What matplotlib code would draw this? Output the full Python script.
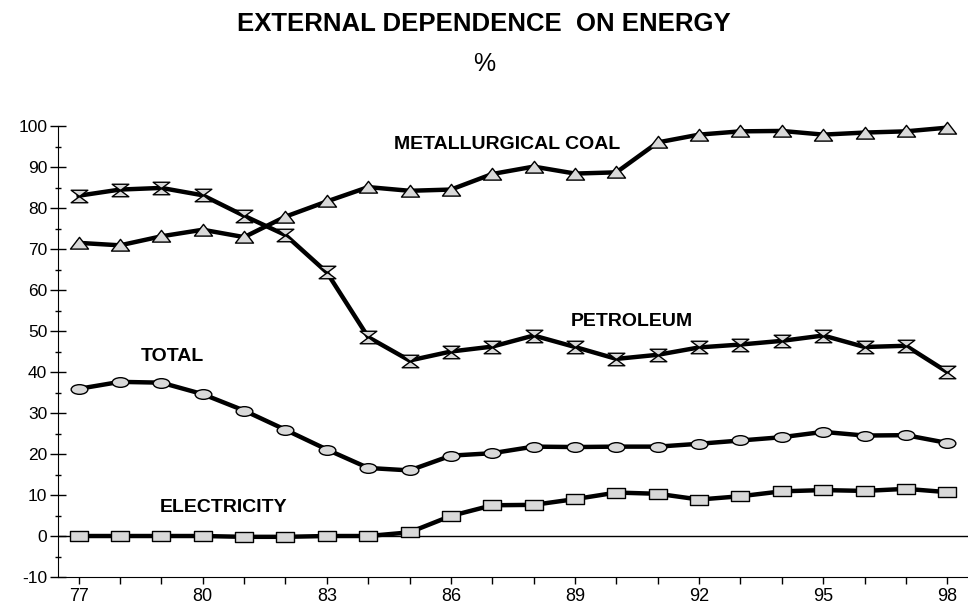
import matplotlib.pyplot as plt
import numpy as np
from matplotlib.path import Path
from matplotlib.ticker import MultipleLocator

plt.rcParams['font.family'] = ['Liberation Sans', 'DejaVu Sans']
plt.rcParams['axes.unicode_minus'] = False

years = list(range(77, 99))
year_labels = ['77', '80', '83', '86', '89', '92', '95', '98']

petroleum = [83.0, 84.5, 84.9, 83.1, 78.1, 73.4, 64.3, 48.5, 42.8, 45.0, 46.2,
             48.9, 46.1, 43.2, 44.2, 46.0, 46.7, 47.6, 48.9, 46.1, 46.4, 40.0]
met_coal = [71.5, 70.9, 73.1, 74.7, 72.9, 77.9, 81.6, 85.1, 84.2, 84.5, 88.3,
            90.1, 88.4, 88.7, 96.0, 97.9, 98.7, 98.8, 97.9, 98.4, 98.7, 99.6]
total = [35.9, 37.6, 37.4, 34.6, 30.6, 25.9, 21.1, 16.6, 16.0, 19.6, 20.2,
         21.8, 21.7, 21.8, 21.8, 22.5, 23.3, 24.1, 25.4, 24.5, 24.6, 22.7]
electricity = [0.0, 0.0, 0.0, 0.0, -0.2, -0.2, 0.0, 0.0, 0.9, 4.9, 7.5,
               7.6, 9.0, 10.6, 10.3, 8.9, 9.7, 10.9, 11.2, 11.0, 11.5, 10.7]

# custom marker shapes
M, L, C = Path.MOVETO, Path.LINETO, Path.CLOSEPOLY
hourglass = Path([(-1, 0.75), (1, 0.75), (-1, -0.75), (1, -0.75), (-1, 0.75)], [M, L, L, L, C])
triangle = Path([(-1, -0.62), (1, -0.62), (0, 0.68), (-1, -0.62)], [M, L, L, C])
circ = Path.unit_circle()
ellipse = Path(circ.vertices * [1, 0.58], circ.codes)
rect = Path([(-1, -0.6), (1, -0.6), (1, 0.6), (-1, 0.6), (-1, -0.6)], [M, L, L, L, C])

fig = plt.figure(figsize=(9.68, 6.07), dpi=100)
ax = fig.add_axes([0.0599, 0.0494, 0.9401, 0.743])

fill = '#d9d9d9'
kw = dict(color='black', lw=3.2, markerfacecolor=fill, markeredgecolor='black',
          markeredgewidth=1.0, clip_on=False, zorder=3)
ax.plot(years, petroleum, marker=hourglass, markersize=12, **kw)
ax.plot(years, met_coal, marker=triangle, markersize=13, **kw)
ax.plot(years, total, marker=ellipse, markersize=12, **kw)
ax.plot(years, electricity, marker=rect, markersize=13, **kw)

ax.axhline(0, color='black', lw=1, zorder=1)

ax.set_xlim(76.5, 98.5)
ax.set_ylim(-10, 100)
ax.spines['top'].set_visible(False)
ax.spines['right'].set_visible(False)

ax.set_xticks([int(s) for s in year_labels])
ax.set_xticklabels(year_labels)
ax.xaxis.set_minor_locator(MultipleLocator(1))
ax.yaxis.set_major_locator(MultipleLocator(10))
ax.yaxis.set_minor_locator(MultipleLocator(5))
ax.tick_params(axis='x', which='both', direction='out', length=5, width=1, labelsize=13, pad=3)
ax.tick_params(axis='y', which='major', direction='inout', length=11.5, width=1, labelsize=12.5, pad=2)
ax.tick_params(axis='y', which='minor', direction='inout', length=5, width=1)

lab = dict(fontsize=14, fontweight='bold', ha='center', va='center')
ax.text(87.36, 95.4, 'METALLURGICAL COAL', **lab)
ax.text(90.38, 52.3, 'PETROLEUM', **lab)
ax.text(79.26, 43.7, 'TOTAL', **lab)
ax.text(80.5, 6.9, 'ELECTRICITY', **lab)

fig.text(0.5, 1 - 24 / 607, 'EXTERNAL DEPENDENCE  ON ENERGY', fontsize=18.5,
         fontweight='bold', ha='center', va='center')
fig.text(0.5, 1 - 64 / 607, '%', fontsize=18, ha='center', va='center')

fig.savefig('out.png', dpi=100)
